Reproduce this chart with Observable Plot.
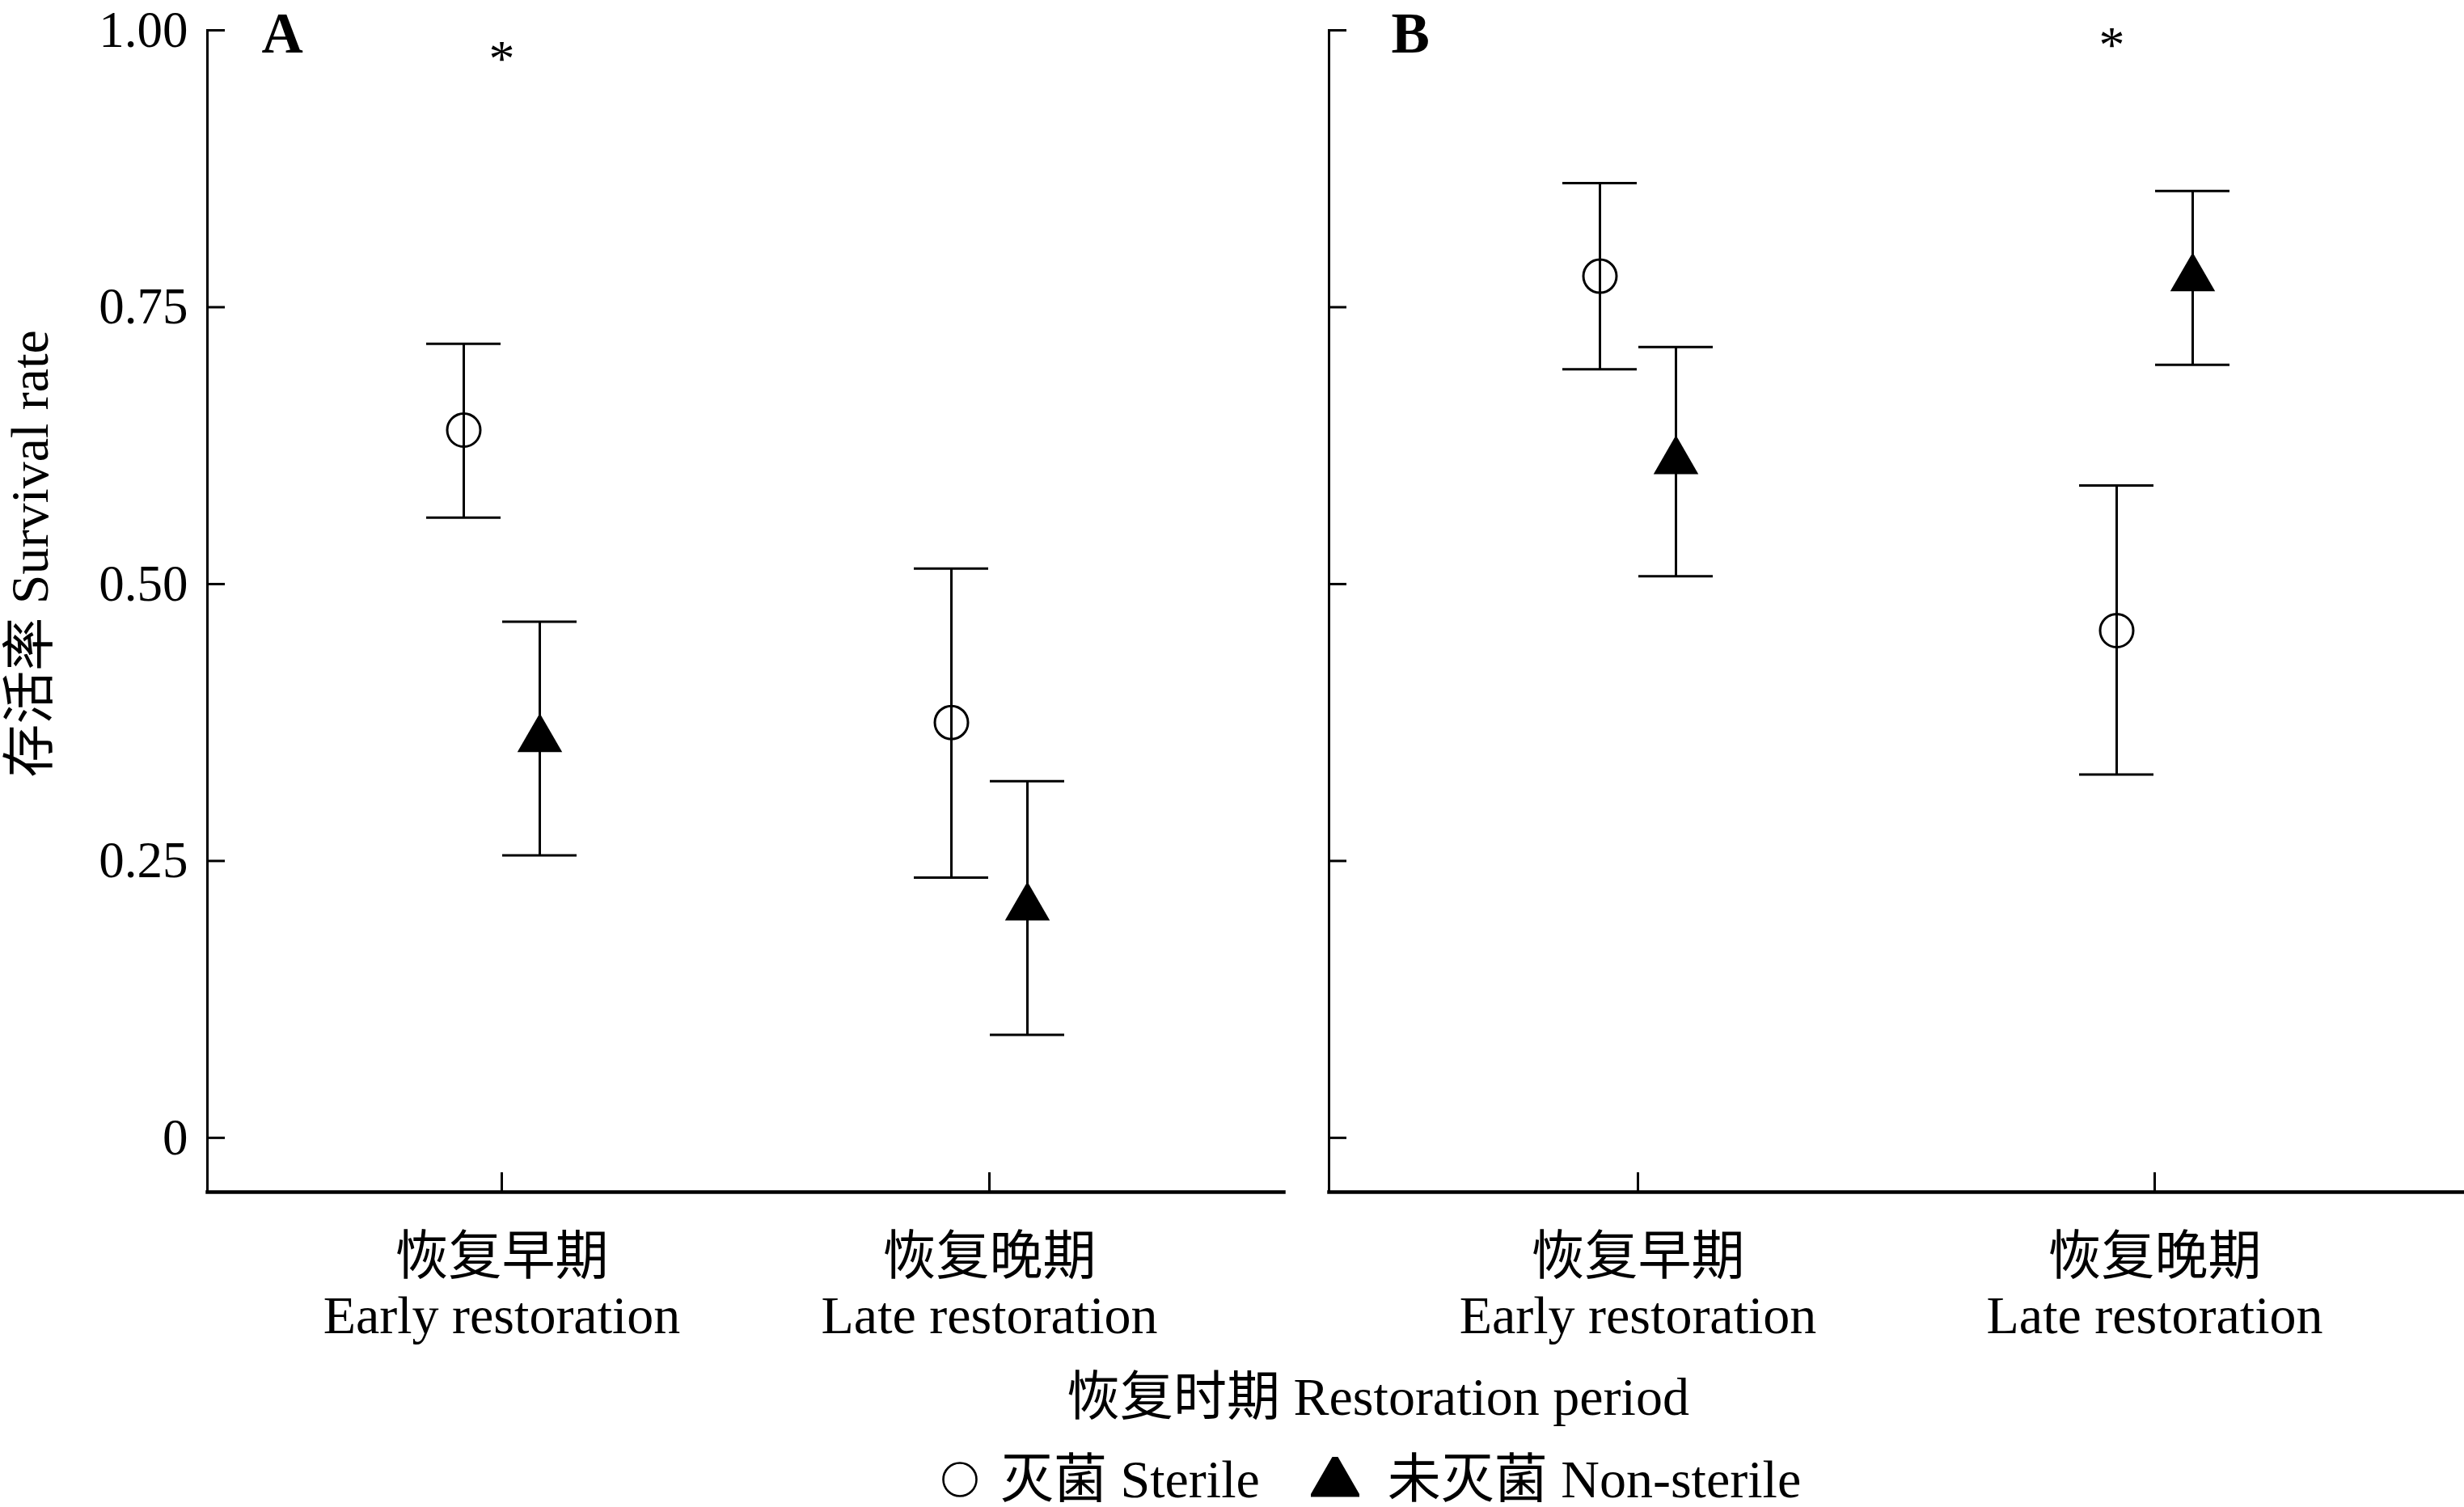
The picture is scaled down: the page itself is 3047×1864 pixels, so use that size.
<!DOCTYPE html>
<html>
<head>
<meta charset="utf-8">
<script src="https://cdn.jsdelivr.net/npm/d3@7"></script>
<script src="https://cdn.jsdelivr.net/npm/@observablehq/plot@0.6"></script>
<style>
html, body { margin: 0; padding: 0; background: #fff; }
body { width: 3047px; height: 1864px; position: relative; overflow: hidden;
  font-family: "Liberation Serif", "Noto Sans CJK SC", serif; color: #000; }
.abs { position: absolute; }
.lbl { position: absolute; white-space: nowrap; font-size: 66px; line-height: 1; }
#legend { position: absolute; display: flex; align-items: center; white-space: nowrap; font-size: 66px; line-height: 1; }
#legend svg { display: block; }
</style>
</head>
<body>
<div id="panelA" class="abs" style="left:0;top:0"></div>
<div id="panelB" class="abs" style="left:1600px;top:0"></div>
<div id="ylab" class="lbl"></div>
<div id="xlab" class="lbl"></div>
<div id="legend"></div>
<script>
// ---- data ----
const periods = ["Early", "Late"];
const periodLabels = ["恢复早期\nEarly restoration", "恢复晚期\nLate restoration"];
const treatments = ["Sterile", "Non-sterile"];
const treatmentLabels = ["灭菌 Sterile", "未灭菌 Non-sterile"];
const yTicks = [0, 0.25, 0.5, 0.75, 1];
const yTitle = "存活率 Survival rate";
const xTitle = "恢复时期 Restoration period";

// Panel A
const aSterileMean = [0.639, 0.375];
const aSterileLow  = [0.560, 0.235];
const aSterileHigh = [0.717, 0.514];
const aNonMean = [0.360, 0.208];
const aNonLow  = [0.255, 0.093];
const aNonHigh = [0.466, 0.322];
const aSig = [{period: "Early", y: 0.974}];

// Panel B
const bSterileMean = [0.778, 0.458];
const bSterileLow  = [0.694, 0.328];
const bSterileHigh = [0.862, 0.589];
const bNonMean = [0.611, 0.776];
const bNonLow  = [0.507, 0.698];
const bNonHigh = [0.714, 0.855];
const bSig = [{period: "Late", y: 0.986}];

// ---- helpers ----
const rows = (mean, lo, hi, t) => periods.map((p, i) => ({period: p, treatment: t, mean: mean[i], lo: lo[i], hi: hi[i]}));
const FONT = "Liberation Serif, Noto Sans CJK SC, serif";

function panel({ster, non, sig, sigDx, label, labelDx, width, marginLeft, marginRight, yLabels, paddingInner, paddingOuter}) {
  const off = 47;
  const marks = [
    Plot.frame({anchor: "left", strokeWidth: 3}),
    Plot.frame({anchor: "bottom", strokeWidth: 4.5}),
    Plot.axisY({ticks: yTicks, tickSize: -22, strokeWidth: 3, tickFormat: () => "", label: null}),
    Plot.axisX({tickSize: -24, strokeWidth: 3, tickFormat: () => "", label: null}),
    Plot.axisX({tickSize: 0, tickPadding: 50, fontSize: 66, lineHeight: 1.106, fontFamily: FONT,
      tickFormat: d => periodLabels[periods.indexOf(d)], label: null}),
    // sterile: error bars + open circles
    Plot.ruleX(ster, {x: "period", y1: "lo", y2: "hi", dx: -off, strokeWidth: 3, stroke: "black"}),
    Plot.tickY(ster, {x: "period", y: "lo", dx: -off, strokeWidth: 3, stroke: "black"}),
    Plot.tickY(ster, {x: "period", y: "hi", dx: -off, strokeWidth: 3, stroke: "black"}),
    Plot.dot(ster, {x: "period", y: "mean", dx: -off, r: 20.5, symbol: "circle", stroke: "black", strokeWidth: 3, fill: "none"}),
    // non-sterile: error bars + filled triangles
    Plot.ruleX(non, {x: "period", y1: "lo", y2: "hi", dx: off, strokeWidth: 3, stroke: "black"}),
    Plot.tickY(non, {x: "period", y: "lo", dx: off, strokeWidth: 3, stroke: "black"}),
    Plot.tickY(non, {x: "period", y: "hi", dx: off, strokeWidth: 3, stroke: "black"}),
    Plot.dot(non, {x: "period", y: "mean", dx: off, r: 20.6, symbol: "triangle", fill: "black", stroke: "none"}),
    // significance
    Plot.text(sig, {x: "period", y: "y", text: () => "*", dx: sigDx, fontSize: 64, fontFamily: FONT}),
    // panel letter
    Plot.text([label], {frameAnchor: "top-left", text: d => d, dx: labelDx, dy: -23.4, fontSize: 71, fontWeight: "bold",
      textAnchor: "start", lineAnchor: "top", fontFamily: FONT})
  ];
  if (yLabels) {
    marks.push(Plot.axisY({ticks: yTicks, tickSize: 0, tickPadding: 24, fontSize: 63, fontFamily: FONT,
      tickFormat: d => d === 0 ? "0" : d.toFixed(2), label: null}));
  }
  return Plot.plot({
    width, height: 1700,
    marginLeft, marginRight, marginTop: 37, marginBottom: 226,
    style: {fontFamily: FONT, background: "transparent", overflow: "visible"},
    x: {type: "band", domain: periods, paddingInner, paddingOuter, label: null, axis: null},
    y: {domain: [-0.049, 1], label: null, axis: null},
    marks
  });
}

document.getElementById("panelA").appendChild(panel({
  ster: rows(aSterileMean, aSterileLow, aSterileHigh, treatments[0]),
  non: rows(aNonMean, aNonLow, aNonHigh, treatments[1]),
  sig: aSig, sigDx: 0, label: "A", labelDx: 67,
  width: 1610, marginLeft: 256, marginRight: 23, yLabels: true,
  paddingInner: 0.847, paddingOuter: 0.527
}));
document.getElementById("panelB").appendChild(panel({
  ster: rows(bSterileMean, bSterileLow, bSterileHigh, treatments[0]),
  non: rows(bNonMean, bNonLow, bNonHigh, treatments[1]),
  sig: bSig, sigDx: -53, label: "B", labelDx: 77,
  width: 1447, marginLeft: 43, marginRight: 0, yLabels: false,
  paddingInner: 0.856, paddingOuter: 0.525
}));

// axis titles
const ylab = document.getElementById("ylab");
ylab.textContent = yTitle;
ylab.style.left = "37px"; ylab.style.top = "685px";
ylab.style.transform = "translate(-50%,-50%) rotate(-90deg)";
const xlab = document.getElementById("xlab");
xlab.textContent = xTitle;
xlab.style.left = "1704px"; xlab.style.top = "1728px";
xlab.style.transform = "translate(-50%,-50%)";

// legend
const legend = document.getElementById("legend");
legend.style.left = "1164px"; legend.style.top = "1797px"; legend.style.height = "66px";
const symbolsL = [
  {sym: d3.symbolCircle, size: Math.PI * 20.5 * 20.5, fill: "none", stroke: "black", w: 46, h: 46, gapR: 27},
  {sym: d3.symbolTriangle, size: 18.5 * 18.5 * 3 * Math.sqrt(3), fill: "black", stroke: "none", w: 60, h: 56, gapR: 35}
];
treatmentLabels.forEach((t, i) => {
  const s = symbolsL[i];
  const svg = d3.create("svg").attr("width", s.w).attr("height", s.h)
    .style("margin-right", s.gapR + "px").style("margin-left", i ? "63px" : "0px");
  svg.append("path")
    .attr("transform", `translate(${s.w / 2},${s.h / 2 + (i ? 3 : 0)})`)
    .attr("d", d3.symbol(s.sym, s.size)())
    .attr("fill", s.fill).attr("stroke", s.stroke).attr("stroke-width", 2.6);
  legend.appendChild(svg.node());
  const span = document.createElement("span");
  span.textContent = t;
  legend.appendChild(span);
});
</script>
</body>
</html>
